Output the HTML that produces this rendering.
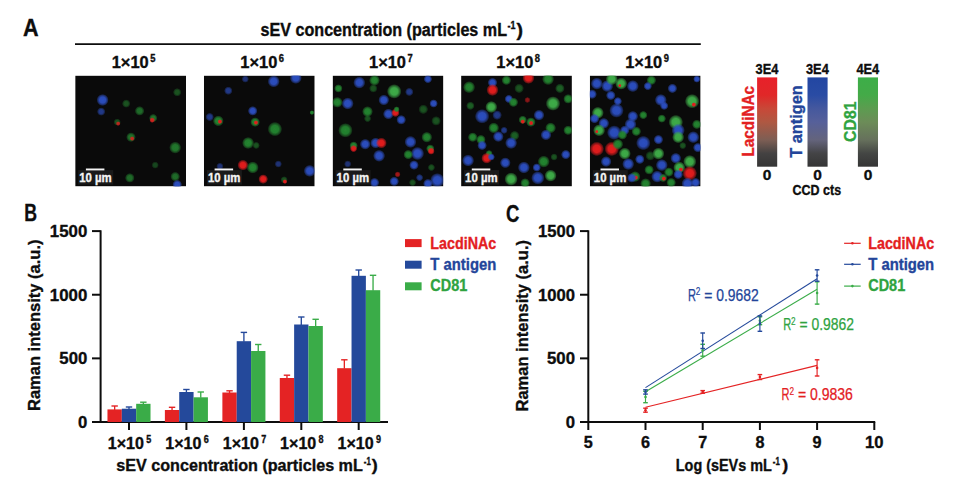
<!DOCTYPE html>
<html><head><meta charset="utf-8"><style>
html,body{margin:0;padding:0;background:#fff;width:955px;height:482px;overflow:hidden}
svg text{font-family:"Liberation Sans", sans-serif}
</style></head><body>
<svg width="955" height="482" viewBox="0 0 955 482" style="display:block">
<rect width="955" height="482" fill="#fff"/>
<text x="23.00" y="35.90" font-size="23.5" font-weight="bold" fill="#0d0d0d" text-anchor="start" textLength="15.60" lengthAdjust="spacingAndGlyphs" stroke="#0d0d0d" stroke-width="0.35">A</text>
<line x1="75.00" y1="44.20" x2="700.80" y2="44.20" stroke="#0d0d0d" stroke-width="1.7"/>
<text x="260.50" y="35.80" font-size="17.5" font-weight="bold" fill="#0d0d0d" text-anchor="start" textLength="246.50" lengthAdjust="spacingAndGlyphs" stroke="#0d0d0d" stroke-width="0.35">sEV concentration (particles mL</text>
<text x="507.50" y="29.00" font-size="10" font-weight="bold" fill="#0d0d0d" text-anchor="start" textLength="8.00" lengthAdjust="spacingAndGlyphs" stroke="#0d0d0d" stroke-width="0.35">-1</text>
<text x="516.50" y="35.80" font-size="17.5" font-weight="bold" fill="#0d0d0d" text-anchor="start" textLength="6.50" lengthAdjust="spacingAndGlyphs" stroke="#0d0d0d" stroke-width="0.35">)</text>
<text x="111.70" y="68.30" font-size="17" font-weight="bold" fill="#0d0d0d" text-anchor="start" textLength="37.00" lengthAdjust="spacingAndGlyphs" stroke="#0d0d0d" stroke-width="0.35">1×10</text>
<text x="150.20" y="61.60" font-size="10" font-weight="bold" fill="#0d0d0d" text-anchor="start" textLength="5.20" lengthAdjust="spacingAndGlyphs" stroke="#0d0d0d" stroke-width="0.35">5</text>
<text x="240.30" y="68.30" font-size="17" font-weight="bold" fill="#0d0d0d" text-anchor="start" textLength="37.00" lengthAdjust="spacingAndGlyphs" stroke="#0d0d0d" stroke-width="0.35">1×10</text>
<text x="278.80" y="61.60" font-size="10" font-weight="bold" fill="#0d0d0d" text-anchor="start" textLength="5.20" lengthAdjust="spacingAndGlyphs" stroke="#0d0d0d" stroke-width="0.35">6</text>
<text x="369.00" y="68.30" font-size="17" font-weight="bold" fill="#0d0d0d" text-anchor="start" textLength="37.00" lengthAdjust="spacingAndGlyphs" stroke="#0d0d0d" stroke-width="0.35">1×10</text>
<text x="407.50" y="61.60" font-size="10" font-weight="bold" fill="#0d0d0d" text-anchor="start" textLength="5.20" lengthAdjust="spacingAndGlyphs" stroke="#0d0d0d" stroke-width="0.35">7</text>
<text x="496.30" y="68.30" font-size="17" font-weight="bold" fill="#0d0d0d" text-anchor="start" textLength="37.00" lengthAdjust="spacingAndGlyphs" stroke="#0d0d0d" stroke-width="0.35">1×10</text>
<text x="534.80" y="61.60" font-size="10" font-weight="bold" fill="#0d0d0d" text-anchor="start" textLength="5.20" lengthAdjust="spacingAndGlyphs" stroke="#0d0d0d" stroke-width="0.35">8</text>
<text x="625.20" y="68.30" font-size="17" font-weight="bold" fill="#0d0d0d" text-anchor="start" textLength="37.00" lengthAdjust="spacingAndGlyphs" stroke="#0d0d0d" stroke-width="0.35">1×10</text>
<text x="663.70" y="61.60" font-size="10" font-weight="bold" fill="#0d0d0d" text-anchor="start" textLength="5.20" lengthAdjust="spacingAndGlyphs" stroke="#0d0d0d" stroke-width="0.35">9</text>
<defs>
<radialGradient id="rgb"><stop offset="0" stop-color="rgb(44,78,192)" stop-opacity="1"/><stop offset="0.5" stop-color="rgb(44,78,192)" stop-opacity="0.95"/><stop offset="0.82" stop-color="rgb(44,78,192)" stop-opacity="0.45"/><stop offset="1" stop-color="rgb(44,78,192)" stop-opacity="0"/></radialGradient>
<radialGradient id="rgg"><stop offset="0" stop-color="rgb(36,132,48)" stop-opacity="1"/><stop offset="0.5" stop-color="rgb(36,132,48)" stop-opacity="0.95"/><stop offset="0.82" stop-color="rgb(36,132,48)" stop-opacity="0.45"/><stop offset="1" stop-color="rgb(36,132,48)" stop-opacity="0"/></radialGradient>
<radialGradient id="rgr"><stop offset="0" stop-color="rgb(228,28,30)" stop-opacity="1"/><stop offset="0.5" stop-color="rgb(228,28,30)" stop-opacity="0.95"/><stop offset="0.82" stop-color="rgb(228,28,30)" stop-opacity="0.45"/><stop offset="1" stop-color="rgb(228,28,30)" stop-opacity="0"/></radialGradient>
<radialGradient id="rgG"><stop offset="0" stop-color="rgb(62,172,72)" stop-opacity="1"/><stop offset="0.5" stop-color="rgb(62,172,72)" stop-opacity="0.95"/><stop offset="0.82" stop-color="rgb(62,172,72)" stop-opacity="0.45"/><stop offset="1" stop-color="rgb(62,172,72)" stop-opacity="0"/></radialGradient>
<linearGradient id="cbr" x1="0" y1="0" x2="0" y2="1"><stop offset="0" stop-color="#e8202a"/><stop offset="0.2" stop-color="#e02828"/><stop offset="0.35" stop-color="#c84838"/><stop offset="0.5" stop-color="#af5842"/><stop offset="0.7" stop-color="#7d5e54"/><stop offset="0.85" stop-color="#444242"/><stop offset="1" stop-color="#353535"/></linearGradient>
<linearGradient id="cbb" x1="0" y1="0" x2="0" y2="1"><stop offset="0" stop-color="#2246a2"/><stop offset="0.2" stop-color="#2a4ca4"/><stop offset="0.35" stop-color="#45589e"/><stop offset="0.5" stop-color="#56609a"/><stop offset="0.7" stop-color="#64647c"/><stop offset="0.85" stop-color="#444446"/><stop offset="1" stop-color="#353535"/></linearGradient>
<linearGradient id="cbg" x1="0" y1="0" x2="0" y2="1"><stop offset="0" stop-color="#3cae48"/><stop offset="0.2" stop-color="#44aa48"/><stop offset="0.35" stop-color="#5c9c50"/><stop offset="0.5" stop-color="#6c8c58"/><stop offset="0.7" stop-color="#66705c"/><stop offset="0.85" stop-color="#444644"/><stop offset="1" stop-color="#353535"/></linearGradient>
<filter id="bl" x="-10%" y="-10%" width="120%" height="120%"><feGaussianBlur stdDeviation="0.7"/></filter>
</defs>
<svg x="75.2" y="75.6" width="110.8" height="110.8" viewBox="0 0 110.8 110.8" overflow="hidden">
<rect x="0.00" y="0.00" width="110.80" height="110.80" fill="#0a0a0a"/>
<g filter="url(#bl)">
<circle cx="27.4" cy="24.4" r="6.10" fill="url(#rgb)" opacity="1"/>
<circle cx="26" cy="36" r="4.27" fill="url(#rgb)" opacity="0.7"/>
<circle cx="51" cy="28" r="4.27" fill="url(#rgg)" opacity="0.6"/>
<circle cx="64.4" cy="35.3" r="4.88" fill="url(#rgg)" opacity="0.8"/>
<circle cx="78" cy="42.5" r="4.27" fill="url(#rgg)" opacity="0.85"/>
<circle cx="77" cy="44.5" r="2.81" fill="url(#rgr)" opacity="0.9"/>
<circle cx="42" cy="46.5" r="3.66" fill="url(#rgg)" opacity="0.6"/>
<circle cx="43" cy="48" r="2.44" fill="url(#rgr)" opacity="0.8"/>
<circle cx="55.8" cy="61.6" r="4.88" fill="url(#rgg)" opacity="0.85"/>
<circle cx="57" cy="63" r="2.44" fill="url(#rgr)" opacity="0.85"/>
<circle cx="100" cy="72" r="6.10" fill="url(#rgg)" opacity="0.9"/>
<circle cx="102" cy="16.7" r="4.27" fill="url(#rgg)" opacity="0.6"/>
<circle cx="80" cy="89.5" r="3.66" fill="url(#rgg)" opacity="0.5"/>
<circle cx="54.6" cy="102.3" r="4.88" fill="url(#rgg)" opacity="0.8"/>
<circle cx="100" cy="101" r="4.88" fill="url(#rgg)" opacity="0.8"/>
<circle cx="102" cy="109" r="4.88" fill="url(#rgb)" opacity="1"/>
</g>
<rect x="3.00" y="94.50" width="35.00" height="14.50" fill="#1a1a1a"/>
<rect x="10.70" y="92.90" width="18.50" height="1.90" fill="#f4f4f4"/>
<text x="4.00" y="106.00" font-size="12" font-weight="bold" fill="#f4f4f4" text-anchor="start" textLength="32.50" lengthAdjust="spacingAndGlyphs" stroke="#f4f4f4" stroke-width="0.35">10 µm</text>
</svg>
<svg x="203.9" y="75.6" width="110.8" height="110.8" viewBox="0 0 110.8 110.8" overflow="hidden">
<rect x="0.00" y="0.00" width="110.80" height="110.80" fill="#0a0a0a"/>
<g filter="url(#bl)">
<circle cx="69.8" cy="5.8" r="6.10" fill="url(#rgb)" opacity="1"/>
<circle cx="91.9" cy="2.3" r="6.10" fill="url(#rgb)" opacity="1"/>
<circle cx="41.4" cy="3.5" r="3.66" fill="url(#rgb)" opacity="0.6"/>
<circle cx="24.4" cy="15.1" r="4.27" fill="url(#rgb)" opacity="0.7"/>
<circle cx="48.8" cy="35.3" r="4.88" fill="url(#rgb)" opacity="1"/>
<circle cx="5.8" cy="41.4" r="4.27" fill="url(#rgb)" opacity="0.7"/>
<circle cx="14.4" cy="45.3" r="5.49" fill="url(#rgg)" opacity="1"/>
<circle cx="16" cy="46" r="2.44" fill="url(#rgr)" opacity="1"/>
<circle cx="51.2" cy="46.5" r="4.88" fill="url(#rgg)" opacity="1"/>
<circle cx="52" cy="47" r="2.44" fill="url(#rgr)" opacity="1"/>
<circle cx="71" cy="53.5" r="7.32" fill="url(#rgg)" opacity="1"/>
<circle cx="44.2" cy="67.4" r="6.10" fill="url(#rgg)" opacity="1"/>
<circle cx="52.3" cy="69.8" r="3.66" fill="url(#rgg)" opacity="0.6"/>
<circle cx="39" cy="89.5" r="5.49" fill="url(#rgr)" opacity="1"/>
<circle cx="48.8" cy="91.9" r="6.10" fill="url(#rgg)" opacity="1"/>
<circle cx="59.3" cy="103.5" r="4.88" fill="url(#rgr)" opacity="1"/>
<circle cx="74.4" cy="88.4" r="3.66" fill="url(#rgb)" opacity="0.6"/>
<circle cx="105.8" cy="95.3" r="6.10" fill="url(#rgb)" opacity="1"/>
<circle cx="80.2" cy="104.2" r="3.66" fill="url(#rgg)" opacity="0.6"/>
<circle cx="81" cy="106" r="2.44" fill="url(#rgr)" opacity="1"/>
<circle cx="16" cy="90.7" r="3.66" fill="url(#rgb)" opacity="0.6"/>
<circle cx="108" cy="37" r="2.44" fill="url(#rgg)" opacity="1"/>
</g>
<rect x="3.00" y="94.50" width="35.00" height="14.50" fill="#1a1a1a"/>
<rect x="10.70" y="92.90" width="18.50" height="1.90" fill="#f4f4f4"/>
<text x="4.00" y="106.00" font-size="12" font-weight="bold" fill="#f4f4f4" text-anchor="start" textLength="32.50" lengthAdjust="spacingAndGlyphs" stroke="#f4f4f4" stroke-width="0.35">10 µm</text>
</svg>
<svg x="332.6" y="75.6" width="110.8" height="110.8" viewBox="0 0 110.8 110.8" overflow="hidden">
<rect x="0.00" y="0.00" width="110.80" height="110.80" fill="#0a0a0a"/>
<g filter="url(#bl)">
<circle cx="26.7" cy="7" r="6.10" fill="url(#rgb)" opacity="1"/>
<circle cx="41.9" cy="4.7" r="5.49" fill="url(#rgg)" opacity="1"/>
<circle cx="40.7" cy="12.8" r="4.27" fill="url(#rgg)" opacity="0.6"/>
<circle cx="5.8" cy="12.8" r="4.27" fill="url(#rgg)" opacity="1"/>
<circle cx="61.6" cy="15.8" r="7.32" fill="url(#rgG)" opacity="1"/>
<circle cx="76.7" cy="16.3" r="4.27" fill="url(#rgb)" opacity="0.7"/>
<circle cx="95.3" cy="3.5" r="4.27" fill="url(#rgb)" opacity="1"/>
<circle cx="15.1" cy="27.9" r="6.10" fill="url(#rgb)" opacity="1"/>
<circle cx="4.7" cy="26.7" r="5.49" fill="url(#rgg)" opacity="1"/>
<circle cx="51.2" cy="24.4" r="5.49" fill="url(#rgb)" opacity="1"/>
<circle cx="101" cy="27.9" r="4.27" fill="url(#rgb)" opacity="1"/>
<circle cx="34.9" cy="36" r="5.49" fill="url(#rgg)" opacity="1"/>
<circle cx="35" cy="43" r="3.66" fill="url(#rgg)" opacity="0.6"/>
<circle cx="55.8" cy="38.4" r="5.49" fill="url(#rgb)" opacity="1"/>
<circle cx="62.8" cy="37.2" r="4.27" fill="url(#rgr)" opacity="1"/>
<circle cx="64" cy="33.7" r="3.05" fill="url(#rgg)" opacity="1"/>
<circle cx="68.6" cy="44.2" r="4.88" fill="url(#rgb)" opacity="1"/>
<circle cx="90.7" cy="33.7" r="4.88" fill="url(#rgg)" opacity="0.6"/>
<circle cx="103.5" cy="45.3" r="4.88" fill="url(#rgg)" opacity="0.6"/>
<circle cx="12.8" cy="54.7" r="7.32" fill="url(#rgg)" opacity="1"/>
<circle cx="94.2" cy="61.6" r="5.49" fill="url(#rgg)" opacity="1"/>
<circle cx="21" cy="70" r="4.27" fill="url(#rgg)" opacity="1"/>
<circle cx="21" cy="73" r="3.66" fill="url(#rgr)" opacity="1"/>
<circle cx="32.6" cy="68.6" r="5.49" fill="url(#rgb)" opacity="1"/>
<circle cx="43" cy="67.4" r="5.49" fill="url(#rgb)" opacity="1"/>
<circle cx="48.8" cy="67.4" r="5.49" fill="url(#rgr)" opacity="1"/>
<circle cx="77.9" cy="66.3" r="6.10" fill="url(#rgb)" opacity="1"/>
<circle cx="97.7" cy="73" r="4.27" fill="url(#rgg)" opacity="1"/>
<circle cx="98.5" cy="75.5" r="3.66" fill="url(#rgr)" opacity="1"/>
<circle cx="84.9" cy="77.9" r="6.71" fill="url(#rgb)" opacity="1"/>
<circle cx="75.6" cy="79" r="4.88" fill="url(#rgg)" opacity="1"/>
<circle cx="46.5" cy="80.2" r="6.10" fill="url(#rgb)" opacity="1"/>
<circle cx="15.1" cy="88.4" r="3.66" fill="url(#rgb)" opacity="0.6"/>
<circle cx="81.4" cy="89.5" r="4.88" fill="url(#rgb)" opacity="1"/>
<circle cx="98.8" cy="91.9" r="3.66" fill="url(#rgg)" opacity="0.6"/>
<circle cx="65" cy="98.8" r="3.05" fill="url(#rgr)" opacity="0.7"/>
<circle cx="61.6" cy="105.8" r="4.88" fill="url(#rgb)" opacity="1"/>
<circle cx="41.9" cy="107" r="4.88" fill="url(#rgb)" opacity="1"/>
<circle cx="104.7" cy="104.7" r="7.32" fill="url(#rgb)" opacity="1"/>
<circle cx="95.3" cy="108" r="4.88" fill="url(#rgb)" opacity="1"/>
<circle cx="87" cy="102" r="3.66" fill="url(#rgb)" opacity="0.7"/>
<circle cx="80" cy="107" r="3.66" fill="url(#rgg)" opacity="0.6"/>
</g>
<rect x="3.00" y="94.50" width="35.00" height="14.50" fill="#1a1a1a"/>
<rect x="10.70" y="92.90" width="18.50" height="1.90" fill="#f4f4f4"/>
<text x="4.00" y="106.00" font-size="12" font-weight="bold" fill="#f4f4f4" text-anchor="start" textLength="32.50" lengthAdjust="spacingAndGlyphs" stroke="#f4f4f4" stroke-width="0.35">10 µm</text>
</svg>
<svg x="461.1" y="75.6" width="110.8" height="110.8" viewBox="0 0 110.8 110.8" overflow="hidden">
<rect x="0.00" y="0.00" width="110.80" height="110.80" fill="#0a0a0a"/>
<g filter="url(#bl)">
<circle cx="8" cy="11.6" r="6.10" fill="url(#rgg)" opacity="1"/>
<circle cx="31.4" cy="7" r="4.88" fill="url(#rgb)" opacity="1"/>
<circle cx="31.4" cy="14.4" r="6.10" fill="url(#rgr)" opacity="1"/>
<circle cx="45.3" cy="4.7" r="4.88" fill="url(#rgg)" opacity="1"/>
<circle cx="67.4" cy="2.3" r="6.10" fill="url(#rgr)" opacity="1"/>
<circle cx="87" cy="3.5" r="6.10" fill="url(#rgg)" opacity="1"/>
<circle cx="58" cy="12.8" r="4.88" fill="url(#rgg)" opacity="0.6"/>
<circle cx="98.8" cy="12.8" r="4.88" fill="url(#rgg)" opacity="0.7"/>
<circle cx="47.7" cy="23.3" r="4.27" fill="url(#rgb)" opacity="1"/>
<circle cx="52.3" cy="26.7" r="4.88" fill="url(#rgg)" opacity="1"/>
<circle cx="66.3" cy="24.4" r="3.05" fill="url(#rgr)" opacity="0.6"/>
<circle cx="91.9" cy="27.9" r="7.32" fill="url(#rgG)" opacity="1"/>
<circle cx="107" cy="23.3" r="4.88" fill="url(#rgg)" opacity="1"/>
<circle cx="9.3" cy="30.2" r="4.27" fill="url(#rgg)" opacity="0.7"/>
<circle cx="30.2" cy="31.4" r="6.10" fill="url(#rgG)" opacity="1"/>
<circle cx="21" cy="40.7" r="7.32" fill="url(#rgb)" opacity="1"/>
<circle cx="36" cy="39.5" r="4.88" fill="url(#rgb)" opacity="0.7"/>
<circle cx="77.9" cy="39.5" r="5.49" fill="url(#rgb)" opacity="1"/>
<circle cx="61.6" cy="44.2" r="4.27" fill="url(#rgg)" opacity="1"/>
<circle cx="61.6" cy="46" r="2.44" fill="url(#rgr)" opacity="1"/>
<circle cx="69.8" cy="46.5" r="4.88" fill="url(#rgg)" opacity="1"/>
<circle cx="70" cy="47.5" r="2.44" fill="url(#rgr)" opacity="1"/>
<circle cx="32.6" cy="52.3" r="5.49" fill="url(#rgg)" opacity="1"/>
<circle cx="89.5" cy="52.3" r="5.49" fill="url(#rgg)" opacity="1"/>
<circle cx="107" cy="54.7" r="4.88" fill="url(#rgg)" opacity="1"/>
<circle cx="43" cy="54.7" r="3.66" fill="url(#rgb)" opacity="0.7"/>
<circle cx="84.9" cy="59.3" r="5.49" fill="url(#rgb)" opacity="1"/>
<circle cx="11.6" cy="61.6" r="4.88" fill="url(#rgg)" opacity="1"/>
<circle cx="19.8" cy="64" r="4.88" fill="url(#rgg)" opacity="1"/>
<circle cx="37.2" cy="61" r="5.49" fill="url(#rgb)" opacity="1"/>
<circle cx="53.5" cy="60" r="4.88" fill="url(#rgg)" opacity="0.7"/>
<circle cx="50" cy="67.4" r="6.10" fill="url(#rgb)" opacity="1"/>
<circle cx="21" cy="69.8" r="4.88" fill="url(#rgb)" opacity="1"/>
<circle cx="28" cy="78" r="3.66" fill="url(#rgg)" opacity="1"/>
<circle cx="25.6" cy="82.6" r="5.49" fill="url(#rgr)" opacity="1"/>
<circle cx="30.2" cy="81.4" r="3.66" fill="url(#rgb)" opacity="1"/>
<circle cx="7" cy="84.9" r="6.10" fill="url(#rgb)" opacity="1"/>
<circle cx="44.2" cy="87.2" r="5.49" fill="url(#rgb)" opacity="1"/>
<circle cx="82.6" cy="86" r="6.10" fill="url(#rgg)" opacity="1"/>
<circle cx="93" cy="81.4" r="3.66" fill="url(#rgg)" opacity="0.6"/>
<circle cx="104.7" cy="79" r="4.88" fill="url(#rgb)" opacity="1"/>
<circle cx="62.8" cy="91.9" r="6.10" fill="url(#rgb)" opacity="1"/>
<circle cx="75.6" cy="91.9" r="4.27" fill="url(#rgb)" opacity="1"/>
<circle cx="89.5" cy="100" r="6.10" fill="url(#rgG)" opacity="1"/>
<circle cx="76.7" cy="102.3" r="6.71" fill="url(#rgb)" opacity="1"/>
<circle cx="50" cy="103.5" r="6.71" fill="url(#rgG)" opacity="1"/>
<circle cx="64" cy="107.4" r="4.88" fill="url(#rgg)" opacity="1"/>
</g>
<rect x="3.00" y="94.50" width="35.00" height="14.50" fill="#1a1a1a"/>
<rect x="10.70" y="92.90" width="18.50" height="1.90" fill="#f4f4f4"/>
<text x="4.00" y="106.00" font-size="12" font-weight="bold" fill="#f4f4f4" text-anchor="start" textLength="32.50" lengthAdjust="spacingAndGlyphs" stroke="#f4f4f4" stroke-width="0.35">10 µm</text>
</svg>
<svg x="589.8" y="75.6" width="110.8" height="110.8" viewBox="0 0 110.8 110.8" overflow="hidden">
<rect x="0.00" y="0.00" width="110.80" height="110.80" fill="#0a0a0a"/>
<g filter="url(#bl)">
<circle cx="7" cy="8" r="6.10" fill="url(#rgb)" opacity="1"/>
<circle cx="17.4" cy="10.5" r="6.10" fill="url(#rgb)" opacity="1"/>
<circle cx="22" cy="3.5" r="6.10" fill="url(#rgG)" opacity="1"/>
<circle cx="31.4" cy="8" r="6.10" fill="url(#rgG)" opacity="1"/>
<circle cx="30" cy="10" r="1.83" fill="url(#rgr)" opacity="1"/>
<circle cx="43" cy="10.5" r="6.10" fill="url(#rgb)" opacity="1"/>
<circle cx="61.6" cy="4.7" r="4.88" fill="url(#rgg)" opacity="1"/>
<circle cx="58" cy="10.5" r="4.27" fill="url(#rgb)" opacity="1"/>
<circle cx="82.6" cy="12.8" r="4.88" fill="url(#rgb)" opacity="1"/>
<circle cx="107" cy="3.5" r="3.66" fill="url(#rgb)" opacity="1"/>
<circle cx="2.3" cy="18.6" r="4.88" fill="url(#rgb)" opacity="1"/>
<circle cx="21" cy="19.8" r="4.88" fill="url(#rgb)" opacity="1"/>
<circle cx="71" cy="24.4" r="6.10" fill="url(#rgb)" opacity="1"/>
<circle cx="102.3" cy="25.6" r="7.32" fill="url(#rgG)" opacity="1"/>
<circle cx="104" cy="29" r="2.44" fill="url(#rgr)" opacity="1"/>
<circle cx="28" cy="25.6" r="4.27" fill="url(#rgb)" opacity="1"/>
<circle cx="26.7" cy="34.9" r="7.32" fill="url(#rgb)" opacity="1"/>
<circle cx="74.4" cy="30.2" r="4.27" fill="url(#rgb)" opacity="1"/>
<circle cx="8" cy="37.2" r="6.10" fill="url(#rgG)" opacity="1"/>
<circle cx="4.7" cy="43" r="4.88" fill="url(#rgb)" opacity="1"/>
<circle cx="43" cy="40.7" r="5.49" fill="url(#rgb)" opacity="1"/>
<circle cx="53.5" cy="39.5" r="4.27" fill="url(#rgg)" opacity="1"/>
<circle cx="14" cy="47.7" r="5.49" fill="url(#rgb)" opacity="1"/>
<circle cx="72" cy="43" r="4.27" fill="url(#rgg)" opacity="1"/>
<circle cx="86" cy="46.5" r="7.32" fill="url(#rgG)" opacity="1"/>
<circle cx="40.7" cy="48.8" r="6.10" fill="url(#rgb)" opacity="1"/>
<circle cx="107" cy="48.8" r="4.88" fill="url(#rgg)" opacity="1"/>
<circle cx="9.3" cy="54.7" r="6.10" fill="url(#rgG)" opacity="1"/>
<circle cx="7" cy="56" r="1.83" fill="url(#rgr)" opacity="1"/>
<circle cx="24.4" cy="57" r="7.32" fill="url(#rgb)" opacity="1"/>
<circle cx="34.9" cy="54.7" r="4.88" fill="url(#rgb)" opacity="1"/>
<circle cx="46.5" cy="55.8" r="4.88" fill="url(#rgg)" opacity="1"/>
<circle cx="32.6" cy="59.3" r="4.88" fill="url(#rgg)" opacity="1"/>
<circle cx="88.4" cy="54.7" r="6.71" fill="url(#rgb)" opacity="1"/>
<circle cx="88.4" cy="61.6" r="6.10" fill="url(#rgG)" opacity="1"/>
<circle cx="103.5" cy="61.6" r="6.10" fill="url(#rgb)" opacity="1"/>
<circle cx="68.6" cy="64" r="4.88" fill="url(#rgb)" opacity="1"/>
<circle cx="53.5" cy="67.4" r="7.32" fill="url(#rgb)" opacity="1"/>
<circle cx="7" cy="73.3" r="7.32" fill="url(#rgr)" opacity="1"/>
<circle cx="22" cy="73.3" r="7.32" fill="url(#rgr)" opacity="1"/>
<circle cx="28" cy="68.6" r="5.49" fill="url(#rgg)" opacity="1"/>
<circle cx="93" cy="70" r="3.66" fill="url(#rgg)" opacity="0.6"/>
<circle cx="35" cy="78" r="6.10" fill="url(#rgG)" opacity="1"/>
<circle cx="68.6" cy="78" r="6.10" fill="url(#rgG)" opacity="1"/>
<circle cx="108" cy="72" r="4.88" fill="url(#rgb)" opacity="1"/>
<circle cx="60.5" cy="80.2" r="4.88" fill="url(#rgg)" opacity="0.6"/>
<circle cx="86" cy="82.6" r="5.49" fill="url(#rgb)" opacity="1"/>
<circle cx="50" cy="83.7" r="4.88" fill="url(#rgb)" opacity="1"/>
<circle cx="16.3" cy="86" r="5.49" fill="url(#rgb)" opacity="1"/>
<circle cx="38.4" cy="88.4" r="6.10" fill="url(#rgb)" opacity="1"/>
<circle cx="100" cy="86" r="6.71" fill="url(#rgG)" opacity="1"/>
<circle cx="72" cy="89.5" r="6.10" fill="url(#rgb)" opacity="1"/>
<circle cx="89.5" cy="91.9" r="6.10" fill="url(#rgG)" opacity="1"/>
<circle cx="91" cy="94" r="2.44" fill="url(#rgr)" opacity="1"/>
<circle cx="100" cy="97.7" r="7.32" fill="url(#rgr)" opacity="1"/>
<circle cx="79" cy="96.5" r="4.88" fill="url(#rgg)" opacity="1"/>
<circle cx="59.3" cy="94.2" r="4.88" fill="url(#rgg)" opacity="1"/>
<circle cx="67.4" cy="101" r="6.10" fill="url(#rgb)" opacity="1"/>
<circle cx="45.3" cy="101" r="5.49" fill="url(#rgg)" opacity="1"/>
<circle cx="46" cy="102" r="2.44" fill="url(#rgr)" opacity="1"/>
<circle cx="41.9" cy="102.3" r="4.88" fill="url(#rgb)" opacity="1"/>
<circle cx="81.4" cy="107" r="4.88" fill="url(#rgg)" opacity="1"/>
<circle cx="73.3" cy="102.3" r="4.27" fill="url(#rgg)" opacity="1"/>
<circle cx="74" cy="103" r="2.44" fill="url(#rgr)" opacity="1"/>
<circle cx="88.4" cy="98.8" r="4.88" fill="url(#rgb)" opacity="1"/>
<circle cx="97.7" cy="108" r="6.10" fill="url(#rgb)" opacity="1"/>
<circle cx="55.8" cy="108" r="5.49" fill="url(#rgg)" opacity="1"/>
<circle cx="105.8" cy="107" r="4.88" fill="url(#rgb)" opacity="1"/>
</g>
<rect x="3.00" y="94.50" width="35.00" height="14.50" fill="#1a1a1a"/>
<rect x="10.70" y="92.90" width="18.50" height="1.90" fill="#f4f4f4"/>
<text x="4.00" y="106.00" font-size="12" font-weight="bold" fill="#f4f4f4" text-anchor="start" textLength="32.50" lengthAdjust="spacingAndGlyphs" stroke="#f4f4f4" stroke-width="0.35">10 µm</text>
</svg>
<rect x="757.10" y="77.40" width="20.10" height="89.30" fill="url(#cbr)"/>
<rect x="807.50" y="77.40" width="20.10" height="89.30" fill="url(#cbb)"/>
<rect x="857.90" y="77.40" width="20.10" height="89.30" fill="url(#cbg)"/>
<text x="767.00" y="73.70" font-size="15" font-weight="bold" fill="#0d0d0d" text-anchor="middle" textLength="22.80" lengthAdjust="spacingAndGlyphs" stroke="#0d0d0d" stroke-width="0.35">3E4</text>
<text x="767.15" y="179.80" font-size="15.5" font-weight="bold" fill="#0d0d0d" text-anchor="middle" textLength="8.60" lengthAdjust="spacingAndGlyphs" stroke="#0d0d0d" stroke-width="0.35">0</text>
<text x="817.40" y="73.70" font-size="15" font-weight="bold" fill="#0d0d0d" text-anchor="middle" textLength="22.80" lengthAdjust="spacingAndGlyphs" stroke="#0d0d0d" stroke-width="0.35">3E4</text>
<text x="817.55" y="179.80" font-size="15.5" font-weight="bold" fill="#0d0d0d" text-anchor="middle" textLength="8.60" lengthAdjust="spacingAndGlyphs" stroke="#0d0d0d" stroke-width="0.35">0</text>
<text x="867.80" y="73.70" font-size="15" font-weight="bold" fill="#0d0d0d" text-anchor="middle" textLength="22.80" lengthAdjust="spacingAndGlyphs" stroke="#0d0d0d" stroke-width="0.35">4E4</text>
<text x="867.95" y="179.80" font-size="15.5" font-weight="bold" fill="#0d0d0d" text-anchor="middle" textLength="8.60" lengthAdjust="spacingAndGlyphs" stroke="#0d0d0d" stroke-width="0.35">0</text>
<text x="792.60" y="194.50" font-size="15" font-weight="bold" fill="#0d0d0d" text-anchor="start" textLength="48.50" lengthAdjust="spacingAndGlyphs" stroke="#0d0d0d" stroke-width="0.35">CCD cts</text>
<text transform="translate(753.50,156.50) rotate(-90)" font-size="17" font-weight="bold" fill="#e3201f" text-anchor="start" textLength="70.50" lengthAdjust="spacingAndGlyphs" stroke="#e3201f" stroke-width="0.35">LacdiNAc</text>
<text transform="translate(802.40,157.80) rotate(-90)" font-size="17" font-weight="bold" fill="#23459a" text-anchor="start" textLength="72.50" lengthAdjust="spacingAndGlyphs" stroke="#23459a" stroke-width="0.35">T antigen</text>
<text transform="translate(855.60,142.00) rotate(-90)" font-size="17" font-weight="bold" fill="#2fa33f" text-anchor="start" textLength="40.50" lengthAdjust="spacingAndGlyphs" stroke="#2fa33f" stroke-width="0.35">CD81</text>
<text x="24.30" y="221.30" font-size="23.3" font-weight="bold" fill="#0d0d0d" text-anchor="start" textLength="12.80" lengthAdjust="spacingAndGlyphs" stroke="#0d0d0d" stroke-width="0.35">B</text>
<line x1="100.60" y1="230.30" x2="100.60" y2="423.00" stroke="#0d0d0d" stroke-width="2.0"/>
<line x1="99.60" y1="422.00" x2="388.00" y2="422.00" stroke="#0d0d0d" stroke-width="2.0"/>
<line x1="92.00" y1="422.00" x2="100.60" y2="422.00" stroke="#0d0d0d" stroke-width="2.0"/>
<text x="87.30" y="427.80" font-size="17" font-weight="bold" fill="#0d0d0d" text-anchor="end" textLength="9.30" lengthAdjust="spacingAndGlyphs" stroke="#0d0d0d" stroke-width="0.35">0</text>
<line x1="92.00" y1="358.37" x2="100.60" y2="358.37" stroke="#0d0d0d" stroke-width="2.0"/>
<text x="87.30" y="364.17" font-size="17" font-weight="bold" fill="#0d0d0d" text-anchor="end" textLength="28.00" lengthAdjust="spacingAndGlyphs" stroke="#0d0d0d" stroke-width="0.35">500</text>
<line x1="92.00" y1="294.73" x2="100.60" y2="294.73" stroke="#0d0d0d" stroke-width="2.0"/>
<text x="87.30" y="300.53" font-size="17" font-weight="bold" fill="#0d0d0d" text-anchor="end" textLength="37.50" lengthAdjust="spacingAndGlyphs" stroke="#0d0d0d" stroke-width="0.35">1000</text>
<line x1="92.00" y1="231.10" x2="100.60" y2="231.10" stroke="#0d0d0d" stroke-width="2.0"/>
<text x="87.30" y="236.90" font-size="17" font-weight="bold" fill="#0d0d0d" text-anchor="end" textLength="37.50" lengthAdjust="spacingAndGlyphs" stroke="#0d0d0d" stroke-width="0.35">1500</text>
<line x1="129.00" y1="422.00" x2="129.00" y2="430.00" stroke="#0d0d0d" stroke-width="2.0"/>
<line x1="186.40" y1="422.00" x2="186.40" y2="430.00" stroke="#0d0d0d" stroke-width="2.0"/>
<line x1="243.90" y1="422.00" x2="243.90" y2="430.00" stroke="#0d0d0d" stroke-width="2.0"/>
<line x1="301.30" y1="422.00" x2="301.30" y2="430.00" stroke="#0d0d0d" stroke-width="2.0"/>
<line x1="358.70" y1="422.00" x2="358.70" y2="430.00" stroke="#0d0d0d" stroke-width="2.0"/>
<rect x="107.47" y="409.40" width="14.35" height="12.60" fill="#e42324"/>
<line x1="114.65" y1="406.00" x2="114.65" y2="409.90" stroke="#e42324" stroke-width="1.35"/>
<line x1="111.45" y1="406.00" x2="117.85" y2="406.00" stroke="#e42324" stroke-width="1.4"/>
<rect x="121.82" y="408.70" width="14.35" height="13.30" fill="#24499b"/>
<line x1="129.00" y1="407.00" x2="129.00" y2="409.20" stroke="#24499b" stroke-width="1.35"/>
<line x1="125.80" y1="407.00" x2="132.20" y2="407.00" stroke="#24499b" stroke-width="1.4"/>
<rect x="136.17" y="403.80" width="14.35" height="18.20" fill="#3aac48"/>
<line x1="143.35" y1="402.20" x2="143.35" y2="404.30" stroke="#3aac48" stroke-width="1.35"/>
<line x1="140.15" y1="402.20" x2="146.55" y2="402.20" stroke="#3aac48" stroke-width="1.4"/>
<rect x="164.88" y="410.00" width="14.35" height="12.00" fill="#e42324"/>
<line x1="172.05" y1="407.30" x2="172.05" y2="410.50" stroke="#e42324" stroke-width="1.35"/>
<line x1="168.85" y1="407.30" x2="175.25" y2="407.30" stroke="#e42324" stroke-width="1.4"/>
<rect x="179.22" y="392.00" width="14.35" height="30.00" fill="#24499b"/>
<line x1="186.40" y1="389.50" x2="186.40" y2="392.50" stroke="#24499b" stroke-width="1.35"/>
<line x1="183.20" y1="389.50" x2="189.60" y2="389.50" stroke="#24499b" stroke-width="1.4"/>
<rect x="193.57" y="397.30" width="14.35" height="24.70" fill="#3aac48"/>
<line x1="200.75" y1="392.00" x2="200.75" y2="397.80" stroke="#3aac48" stroke-width="1.35"/>
<line x1="197.55" y1="392.00" x2="203.95" y2="392.00" stroke="#3aac48" stroke-width="1.4"/>
<rect x="222.38" y="392.50" width="14.35" height="29.50" fill="#e42324"/>
<line x1="229.55" y1="390.80" x2="229.55" y2="393.00" stroke="#e42324" stroke-width="1.35"/>
<line x1="226.35" y1="390.80" x2="232.75" y2="390.80" stroke="#e42324" stroke-width="1.4"/>
<rect x="236.72" y="341.20" width="14.35" height="80.80" fill="#24499b"/>
<line x1="243.90" y1="332.40" x2="243.90" y2="341.70" stroke="#24499b" stroke-width="1.35"/>
<line x1="240.70" y1="332.40" x2="247.10" y2="332.40" stroke="#24499b" stroke-width="1.4"/>
<rect x="251.07" y="351.00" width="14.35" height="71.00" fill="#3aac48"/>
<line x1="258.25" y1="344.50" x2="258.25" y2="351.50" stroke="#3aac48" stroke-width="1.35"/>
<line x1="255.05" y1="344.50" x2="261.45" y2="344.50" stroke="#3aac48" stroke-width="1.4"/>
<rect x="279.78" y="378.00" width="14.35" height="44.00" fill="#e42324"/>
<line x1="286.95" y1="375.20" x2="286.95" y2="378.50" stroke="#e42324" stroke-width="1.35"/>
<line x1="283.75" y1="375.20" x2="290.15" y2="375.20" stroke="#e42324" stroke-width="1.4"/>
<rect x="294.13" y="324.50" width="14.35" height="97.50" fill="#24499b"/>
<line x1="301.30" y1="317.00" x2="301.30" y2="325.00" stroke="#24499b" stroke-width="1.35"/>
<line x1="298.10" y1="317.00" x2="304.50" y2="317.00" stroke="#24499b" stroke-width="1.4"/>
<rect x="308.48" y="326.00" width="14.35" height="96.00" fill="#3aac48"/>
<line x1="315.65" y1="319.30" x2="315.65" y2="326.50" stroke="#3aac48" stroke-width="1.35"/>
<line x1="312.45" y1="319.30" x2="318.85" y2="319.30" stroke="#3aac48" stroke-width="1.4"/>
<rect x="337.18" y="368.20" width="14.35" height="53.80" fill="#e42324"/>
<line x1="344.35" y1="359.80" x2="344.35" y2="368.70" stroke="#e42324" stroke-width="1.35"/>
<line x1="341.15" y1="359.80" x2="347.55" y2="359.80" stroke="#e42324" stroke-width="1.4"/>
<rect x="351.53" y="275.80" width="14.35" height="146.20" fill="#24499b"/>
<line x1="358.70" y1="270.00" x2="358.70" y2="276.30" stroke="#24499b" stroke-width="1.35"/>
<line x1="355.50" y1="270.00" x2="361.90" y2="270.00" stroke="#24499b" stroke-width="1.4"/>
<rect x="365.88" y="290.20" width="14.35" height="131.80" fill="#3aac48"/>
<line x1="373.05" y1="275.30" x2="373.05" y2="290.70" stroke="#3aac48" stroke-width="1.35"/>
<line x1="369.85" y1="275.30" x2="376.25" y2="275.30" stroke="#3aac48" stroke-width="1.4"/>
<text x="107.80" y="449.30" font-size="17" font-weight="bold" fill="#0d0d0d" text-anchor="start" textLength="36.20" lengthAdjust="spacingAndGlyphs" stroke="#0d0d0d" stroke-width="0.35">1×10</text>
<text x="146.30" y="443.00" font-size="10" font-weight="bold" fill="#0d0d0d" text-anchor="start" textLength="5.00" lengthAdjust="spacingAndGlyphs" stroke="#0d0d0d" stroke-width="0.35">5</text>
<text x="165.20" y="449.30" font-size="17" font-weight="bold" fill="#0d0d0d" text-anchor="start" textLength="36.20" lengthAdjust="spacingAndGlyphs" stroke="#0d0d0d" stroke-width="0.35">1×10</text>
<text x="203.70" y="443.00" font-size="10" font-weight="bold" fill="#0d0d0d" text-anchor="start" textLength="5.00" lengthAdjust="spacingAndGlyphs" stroke="#0d0d0d" stroke-width="0.35">6</text>
<text x="222.70" y="449.30" font-size="17" font-weight="bold" fill="#0d0d0d" text-anchor="start" textLength="36.20" lengthAdjust="spacingAndGlyphs" stroke="#0d0d0d" stroke-width="0.35">1×10</text>
<text x="261.20" y="443.00" font-size="10" font-weight="bold" fill="#0d0d0d" text-anchor="start" textLength="5.00" lengthAdjust="spacingAndGlyphs" stroke="#0d0d0d" stroke-width="0.35">7</text>
<text x="280.10" y="449.30" font-size="17" font-weight="bold" fill="#0d0d0d" text-anchor="start" textLength="36.20" lengthAdjust="spacingAndGlyphs" stroke="#0d0d0d" stroke-width="0.35">1×10</text>
<text x="318.60" y="443.00" font-size="10" font-weight="bold" fill="#0d0d0d" text-anchor="start" textLength="5.00" lengthAdjust="spacingAndGlyphs" stroke="#0d0d0d" stroke-width="0.35">8</text>
<text x="337.50" y="449.30" font-size="17" font-weight="bold" fill="#0d0d0d" text-anchor="start" textLength="36.20" lengthAdjust="spacingAndGlyphs" stroke="#0d0d0d" stroke-width="0.35">1×10</text>
<text x="376.00" y="443.00" font-size="10" font-weight="bold" fill="#0d0d0d" text-anchor="start" textLength="5.00" lengthAdjust="spacingAndGlyphs" stroke="#0d0d0d" stroke-width="0.35">9</text>
<text x="116.30" y="471.00" font-size="17" font-weight="bold" fill="#0d0d0d" text-anchor="start" textLength="246.50" lengthAdjust="spacingAndGlyphs" stroke="#0d0d0d" stroke-width="0.35">sEV concentration (particles mL</text>
<text x="363.80" y="465.00" font-size="10" font-weight="bold" fill="#0d0d0d" text-anchor="start" textLength="7.00" lengthAdjust="spacingAndGlyphs" stroke="#0d0d0d" stroke-width="0.35">-1</text>
<text x="371.80" y="471.00" font-size="17" font-weight="bold" fill="#0d0d0d" text-anchor="start" textLength="6.00" lengthAdjust="spacingAndGlyphs" stroke="#0d0d0d" stroke-width="0.35">)</text>
<text transform="translate(40.00,411.00) rotate(-90)" font-size="17" font-weight="bold" fill="#0d0d0d" text-anchor="start" textLength="171.50" lengthAdjust="spacingAndGlyphs" stroke="#0d0d0d" stroke-width="0.35">Raman intensity (a.u.)</text>
<rect x="405.00" y="239.10" width="16.60" height="8.00" fill="#e42324"/>
<text x="430.30" y="248.60" font-size="17" font-weight="bold" fill="#e3201f" text-anchor="start" textLength="66.00" lengthAdjust="spacingAndGlyphs" stroke="#e3201f" stroke-width="0.35">LacdiNAc</text>
<rect x="405.00" y="260.70" width="16.60" height="8.00" fill="#24499b"/>
<text x="430.30" y="269.70" font-size="17" font-weight="bold" fill="#23459a" text-anchor="start" textLength="66.00" lengthAdjust="spacingAndGlyphs" stroke="#23459a" stroke-width="0.35">T antigen</text>
<rect x="405.00" y="282.30" width="16.60" height="8.00" fill="#3aac48"/>
<text x="430.30" y="290.50" font-size="17" font-weight="bold" fill="#2fa33f" text-anchor="start" textLength="37.00" lengthAdjust="spacingAndGlyphs" stroke="#2fa33f" stroke-width="0.35">CD81</text>
<text x="505.90" y="221.90" font-size="23.5" font-weight="bold" fill="#0d0d0d" text-anchor="start" textLength="13.40" lengthAdjust="spacingAndGlyphs" stroke="#0d0d0d" stroke-width="0.35">C</text>
<line x1="588.30" y1="230.30" x2="588.30" y2="423.00" stroke="#0d0d0d" stroke-width="2.0"/>
<line x1="580.00" y1="422.00" x2="875.20" y2="422.00" stroke="#0d0d0d" stroke-width="2.0"/>
<line x1="580.00" y1="422.00" x2="588.30" y2="422.00" stroke="#0d0d0d" stroke-width="2.0"/>
<text x="575.00" y="427.80" font-size="17" font-weight="bold" fill="#0d0d0d" text-anchor="end" textLength="9.30" lengthAdjust="spacingAndGlyphs" stroke="#0d0d0d" stroke-width="0.35">0</text>
<line x1="580.00" y1="358.37" x2="588.30" y2="358.37" stroke="#0d0d0d" stroke-width="2.0"/>
<text x="575.00" y="364.17" font-size="17" font-weight="bold" fill="#0d0d0d" text-anchor="end" textLength="28.00" lengthAdjust="spacingAndGlyphs" stroke="#0d0d0d" stroke-width="0.35">500</text>
<line x1="580.00" y1="294.73" x2="588.30" y2="294.73" stroke="#0d0d0d" stroke-width="2.0"/>
<text x="575.00" y="300.53" font-size="17" font-weight="bold" fill="#0d0d0d" text-anchor="end" textLength="37.00" lengthAdjust="spacingAndGlyphs" stroke="#0d0d0d" stroke-width="0.35">1000</text>
<line x1="580.00" y1="231.10" x2="588.30" y2="231.10" stroke="#0d0d0d" stroke-width="2.0"/>
<text x="575.00" y="236.90" font-size="17" font-weight="bold" fill="#0d0d0d" text-anchor="end" textLength="37.00" lengthAdjust="spacingAndGlyphs" stroke="#0d0d0d" stroke-width="0.35">1500</text>
<line x1="588.30" y1="422.00" x2="588.30" y2="430.00" stroke="#0d0d0d" stroke-width="2.0"/>
<text x="588.30" y="448.00" font-size="17" font-weight="bold" fill="#0d0d0d" text-anchor="middle" textLength="9.00" lengthAdjust="spacingAndGlyphs" stroke="#0d0d0d" stroke-width="0.35">5</text>
<line x1="645.50" y1="422.00" x2="645.50" y2="430.00" stroke="#0d0d0d" stroke-width="2.0"/>
<text x="645.50" y="448.00" font-size="17" font-weight="bold" fill="#0d0d0d" text-anchor="middle" textLength="9.00" lengthAdjust="spacingAndGlyphs" stroke="#0d0d0d" stroke-width="0.35">6</text>
<line x1="702.70" y1="422.00" x2="702.70" y2="430.00" stroke="#0d0d0d" stroke-width="2.0"/>
<text x="702.70" y="448.00" font-size="17" font-weight="bold" fill="#0d0d0d" text-anchor="middle" textLength="9.00" lengthAdjust="spacingAndGlyphs" stroke="#0d0d0d" stroke-width="0.35">7</text>
<line x1="759.90" y1="422.00" x2="759.90" y2="430.00" stroke="#0d0d0d" stroke-width="2.0"/>
<text x="759.90" y="448.00" font-size="17" font-weight="bold" fill="#0d0d0d" text-anchor="middle" textLength="9.00" lengthAdjust="spacingAndGlyphs" stroke="#0d0d0d" stroke-width="0.35">8</text>
<line x1="817.10" y1="422.00" x2="817.10" y2="430.00" stroke="#0d0d0d" stroke-width="2.0"/>
<text x="817.10" y="448.00" font-size="17" font-weight="bold" fill="#0d0d0d" text-anchor="middle" textLength="9.00" lengthAdjust="spacingAndGlyphs" stroke="#0d0d0d" stroke-width="0.35">9</text>
<line x1="874.30" y1="422.00" x2="874.30" y2="430.00" stroke="#0d0d0d" stroke-width="2.0"/>
<text x="874.30" y="448.00" font-size="17" font-weight="bold" fill="#0d0d0d" text-anchor="middle" textLength="18.50" lengthAdjust="spacingAndGlyphs" stroke="#0d0d0d" stroke-width="0.35">10</text>
<text x="675.80" y="471.10" font-size="17" font-weight="bold" fill="#0d0d0d" text-anchor="start" textLength="96.00" lengthAdjust="spacingAndGlyphs" stroke="#0d0d0d" stroke-width="0.35">Log (sEVs mL</text>
<text x="772.80" y="465.00" font-size="10" font-weight="bold" fill="#0d0d0d" text-anchor="start" textLength="7.00" lengthAdjust="spacingAndGlyphs" stroke="#0d0d0d" stroke-width="0.35">-1</text>
<text x="782.30" y="471.10" font-size="17" font-weight="bold" fill="#0d0d0d" text-anchor="start" textLength="6.00" lengthAdjust="spacingAndGlyphs" stroke="#0d0d0d" stroke-width="0.35">)</text>
<text transform="translate(527.80,411.50) rotate(-90)" font-size="17" font-weight="bold" fill="#0d0d0d" text-anchor="start" textLength="171.50" lengthAdjust="spacingAndGlyphs" stroke="#0d0d0d" stroke-width="0.35">Raman intensity (a.u.)</text>
<line x1="645.50" y1="407.30" x2="817.10" y2="365.40" stroke="#e42324" stroke-width="1.1"/>
<line x1="645.50" y1="391.80" x2="817.10" y2="289.30" stroke="#3aac48" stroke-width="1.1"/>
<line x1="645.50" y1="387.60" x2="817.10" y2="278.70" stroke="#24499b" stroke-width="1.1"/>
<line x1="645.50" y1="407.90" x2="645.50" y2="412.50" stroke="#e42324" stroke-width="1.15"/>
<line x1="643.20" y1="408.20" x2="647.80" y2="408.20" stroke="#e42324" stroke-width="1.4"/>
<line x1="643.20" y1="412.20" x2="647.80" y2="412.20" stroke="#e42324" stroke-width="1.4"/>
<circle cx="645.50" cy="410.20" r="1.3" fill="#e42324"/>
<line x1="702.70" y1="390.30" x2="702.70" y2="393.50" stroke="#e42324" stroke-width="1.15"/>
<line x1="700.40" y1="390.60" x2="705.00" y2="390.60" stroke="#e42324" stroke-width="1.4"/>
<line x1="700.40" y1="393.20" x2="705.00" y2="393.20" stroke="#e42324" stroke-width="1.4"/>
<circle cx="702.70" cy="391.90" r="1.3" fill="#e42324"/>
<line x1="759.90" y1="374.30" x2="759.90" y2="379.80" stroke="#e42324" stroke-width="1.15"/>
<line x1="757.60" y1="374.60" x2="762.20" y2="374.60" stroke="#e42324" stroke-width="1.4"/>
<line x1="757.60" y1="379.50" x2="762.20" y2="379.50" stroke="#e42324" stroke-width="1.4"/>
<circle cx="759.90" cy="377.05" r="1.3" fill="#e42324"/>
<line x1="817.10" y1="359.50" x2="817.10" y2="376.30" stroke="#e42324" stroke-width="1.15"/>
<line x1="814.80" y1="359.80" x2="819.40" y2="359.80" stroke="#e42324" stroke-width="1.4"/>
<line x1="814.80" y1="376.00" x2="819.40" y2="376.00" stroke="#e42324" stroke-width="1.4"/>
<circle cx="817.10" cy="367.90" r="1.3" fill="#e42324"/>
<line x1="645.50" y1="391.00" x2="645.50" y2="403.00" stroke="#3aac48" stroke-width="1.15"/>
<line x1="643.20" y1="391.30" x2="647.80" y2="391.30" stroke="#3aac48" stroke-width="1.4"/>
<line x1="643.20" y1="402.70" x2="647.80" y2="402.70" stroke="#3aac48" stroke-width="1.4"/>
<circle cx="645.50" cy="397.00" r="1.3" fill="#3aac48"/>
<line x1="702.70" y1="344.00" x2="702.70" y2="356.50" stroke="#3aac48" stroke-width="1.15"/>
<line x1="700.40" y1="344.30" x2="705.00" y2="344.30" stroke="#3aac48" stroke-width="1.4"/>
<line x1="700.40" y1="356.20" x2="705.00" y2="356.20" stroke="#3aac48" stroke-width="1.4"/>
<circle cx="702.70" cy="350.25" r="1.3" fill="#3aac48"/>
<line x1="759.90" y1="316.50" x2="759.90" y2="325.00" stroke="#3aac48" stroke-width="1.15"/>
<line x1="757.60" y1="316.80" x2="762.20" y2="316.80" stroke="#3aac48" stroke-width="1.4"/>
<line x1="757.60" y1="324.70" x2="762.20" y2="324.70" stroke="#3aac48" stroke-width="1.4"/>
<circle cx="759.90" cy="320.75" r="1.3" fill="#3aac48"/>
<line x1="817.10" y1="281.50" x2="817.10" y2="304.40" stroke="#3aac48" stroke-width="1.15"/>
<line x1="814.80" y1="281.80" x2="819.40" y2="281.80" stroke="#3aac48" stroke-width="1.4"/>
<line x1="814.80" y1="304.10" x2="819.40" y2="304.10" stroke="#3aac48" stroke-width="1.4"/>
<circle cx="817.10" cy="292.95" r="1.3" fill="#3aac48"/>
<line x1="645.50" y1="389.50" x2="645.50" y2="394.40" stroke="#24499b" stroke-width="1.15"/>
<line x1="643.20" y1="389.80" x2="647.80" y2="389.80" stroke="#24499b" stroke-width="1.4"/>
<line x1="643.20" y1="394.10" x2="647.80" y2="394.10" stroke="#24499b" stroke-width="1.4"/>
<circle cx="645.50" cy="391.95" r="1.3" fill="#24499b"/>
<line x1="702.70" y1="332.70" x2="702.70" y2="348.80" stroke="#24499b" stroke-width="1.15"/>
<line x1="700.40" y1="333.00" x2="705.00" y2="333.00" stroke="#24499b" stroke-width="1.4"/>
<line x1="700.40" y1="348.50" x2="705.00" y2="348.50" stroke="#24499b" stroke-width="1.4"/>
<circle cx="702.70" cy="340.75" r="1.3" fill="#24499b"/>
<line x1="759.90" y1="315.60" x2="759.90" y2="331.60" stroke="#24499b" stroke-width="1.15"/>
<line x1="757.60" y1="315.90" x2="762.20" y2="315.90" stroke="#24499b" stroke-width="1.4"/>
<line x1="757.60" y1="331.30" x2="762.20" y2="331.30" stroke="#24499b" stroke-width="1.4"/>
<circle cx="759.90" cy="323.60" r="1.3" fill="#24499b"/>
<line x1="817.10" y1="269.50" x2="817.10" y2="281.50" stroke="#24499b" stroke-width="1.15"/>
<line x1="814.80" y1="269.80" x2="819.40" y2="269.80" stroke="#24499b" stroke-width="1.4"/>
<line x1="814.80" y1="281.20" x2="819.40" y2="281.20" stroke="#24499b" stroke-width="1.4"/>
<circle cx="817.10" cy="275.50" r="1.3" fill="#24499b"/>
<text x="688.00" y="300.50" font-size="16" font-weight="normal" fill="#23459a" text-anchor="start" textLength="8.00" lengthAdjust="spacingAndGlyphs" stroke="#23459a" stroke-width="0.25">R</text>
<text x="695.80" y="295.30" font-size="10" font-weight="normal" fill="#23459a" text-anchor="start" textLength="4.60" lengthAdjust="spacingAndGlyphs" stroke="#23459a" stroke-width="0.15">2</text>
<text x="704.30" y="300.50" font-size="16" font-weight="normal" fill="#23459a" text-anchor="start" textLength="54.50" lengthAdjust="spacingAndGlyphs" stroke="#23459a" stroke-width="0.25">= 0.9682</text>
<text x="783.20" y="330.20" font-size="16" font-weight="normal" fill="#2fa33f" text-anchor="start" textLength="8.00" lengthAdjust="spacingAndGlyphs" stroke="#2fa33f" stroke-width="0.25">R</text>
<text x="791.00" y="325.00" font-size="10" font-weight="normal" fill="#2fa33f" text-anchor="start" textLength="4.60" lengthAdjust="spacingAndGlyphs" stroke="#2fa33f" stroke-width="0.15">2</text>
<text x="799.50" y="330.20" font-size="16" font-weight="normal" fill="#2fa33f" text-anchor="start" textLength="54.50" lengthAdjust="spacingAndGlyphs" stroke="#2fa33f" stroke-width="0.25">= 0.9862</text>
<text x="781.60" y="400.00" font-size="16" font-weight="normal" fill="#e3201f" text-anchor="start" textLength="8.00" lengthAdjust="spacingAndGlyphs" stroke="#e3201f" stroke-width="0.25">R</text>
<text x="789.40" y="394.80" font-size="10" font-weight="normal" fill="#e3201f" text-anchor="start" textLength="4.60" lengthAdjust="spacingAndGlyphs" stroke="#e3201f" stroke-width="0.15">2</text>
<text x="797.90" y="400.00" font-size="16" font-weight="normal" fill="#e3201f" text-anchor="start" textLength="55.00" lengthAdjust="spacingAndGlyphs" stroke="#e3201f" stroke-width="0.25">= 0.9836</text>
<line x1="844.10" y1="243.30" x2="860.70" y2="243.30" stroke="#e42324" stroke-width="1.2"/>
<circle cx="852.4" cy="243.3" r="1.3" fill="#e42324"/>
<text x="868.20" y="248.60" font-size="17" font-weight="bold" fill="#e3201f" text-anchor="start" textLength="66.00" lengthAdjust="spacingAndGlyphs" stroke="#e3201f" stroke-width="0.35">LacdiNAc</text>
<line x1="844.10" y1="264.30" x2="860.70" y2="264.30" stroke="#24499b" stroke-width="1.2"/>
<circle cx="852.4" cy="264.3" r="1.3" fill="#24499b"/>
<text x="868.20" y="269.70" font-size="17" font-weight="bold" fill="#23459a" text-anchor="start" textLength="66.00" lengthAdjust="spacingAndGlyphs" stroke="#23459a" stroke-width="0.35">T antigen</text>
<line x1="844.10" y1="286.10" x2="860.70" y2="286.10" stroke="#3aac48" stroke-width="1.2"/>
<circle cx="852.4" cy="286.1" r="1.3" fill="#3aac48"/>
<text x="868.20" y="290.50" font-size="17" font-weight="bold" fill="#2fa33f" text-anchor="start" textLength="37.00" lengthAdjust="spacingAndGlyphs" stroke="#2fa33f" stroke-width="0.35">CD81</text>
</svg>
</body></html>
